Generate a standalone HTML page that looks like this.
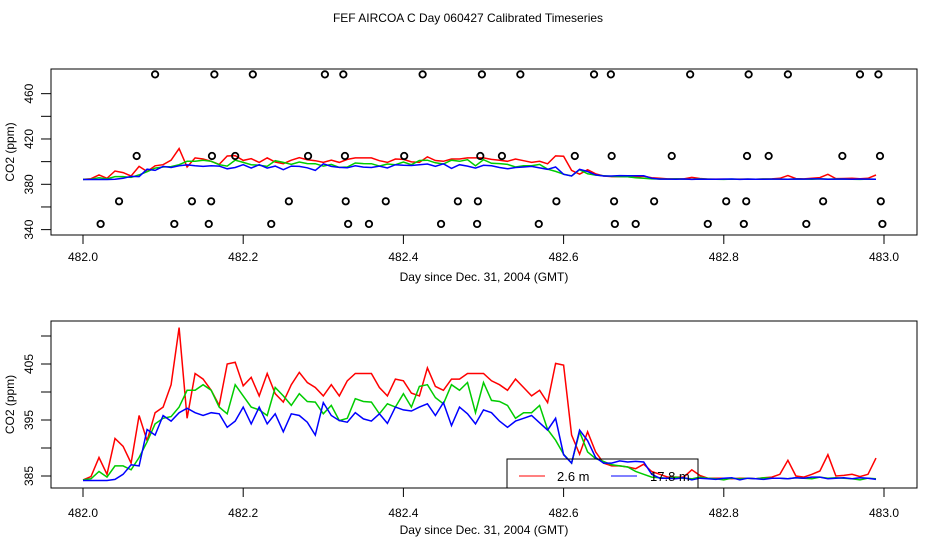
<!DOCTYPE html>
<html><head><meta charset="utf-8">
<style>
body{margin:0;background:#fff;}
svg{display:block;font-family:"Liberation Sans",sans-serif;}
</style></head>
<body>
<svg id="chart" width="936" height="540" viewBox="0 0 936 540" xmlns="http://www.w3.org/2000/svg">
<rect width="936" height="540" fill="#fff"/>
<text x="468" y="22" font-size="12" text-anchor="middle">FEF AIRCOA C  Day 060427  Calibrated Timeseries</text>
<g id="top"></g>
<g id="bot"></g>
</svg>
<script>
const xTicks = [482.0, 482.2, 482.4, 482.6, 482.8, 483.0];
const topYTicks = [340, 360, 380, 400, 420, 440, 460];
const topYLabels = [340, 380, 420, 460];
const botYTicks = [385, 390, 395, 400, 405, 410];
const botYLabels = [385, 395, 405];
const t0 = 482.0, dt = 0.01;
const red = [384.3,384.9,388.3,385.3,391.7,390.3,387.3,395.8,391.3,396.3,397.3,401.3,411.5,395.3,403.3,402.3,400.3,397.6,405,405.3,401.1,402.6,399.3,403.3,399.7,398.2,401.3,403.5,401.7,400.8,399.3,401.3,399.3,402,403.3,403.3,403.3,400.8,399.3,402.3,402,399.8,399.3,404.3,401,400.3,402.3,402.3,403.3,403.3,403.3,402,401.3,400.3,402.3,400.8,399.3,400.3,398.1,405.1,404.8,392.3,388.9,392.9,389.3,387.3,386.8,386.8,386.6,386.3,387.1,385.8,385.3,384.8,384.8,384.8,386.1,385.1,384.6,384.6,384.6,384.5,384.6,384.6,384.5,384.7,384.8,385.3,387.8,385,384.8,385.3,385.9,388.8,385,385.1,385.3,384.9,385.3,388.2];
const green = [384.3,384.5,385.8,384.8,386.8,386.8,386.1,388.3,391.1,394.3,395.3,395.6,397.3,400.3,400.3,401.3,400.3,397.3,396.1,401.3,399.3,397.3,396.8,395.8,400.8,399.3,397.6,399.7,398.3,398.2,396.1,397.6,394.9,395.3,398.8,398.3,398.2,396.1,397.9,397.3,399.7,397.3,401,401.3,399,397.9,401.3,400.3,401.7,396.3,401.7,398.5,398.3,397.6,395.3,396.3,396.3,397.6,393.3,391.4,388.9,387.3,392.9,389.3,388.1,387.6,387,386.8,386.6,385.8,385.3,384.8,384.7,384.6,384.8,384.6,384.5,384.8,384.6,384.5,384.3,384.6,384.5,384.6,384.5,384.7,384.6,384.6,384.5,384.7,384.6,384.5,384.8,384.6,384.7,384.6,384.5,384.3,384.6,384.5];
const blue = [384.2,384.2,384.2,384.2,384.4,385.3,387,386.8,393.3,392.3,395.8,394.8,396.3,397.1,396.3,395.8,396.3,396.1,393.7,394.8,397.3,394.3,397.3,394.3,396.1,392.9,396.1,395.8,394.6,392.3,398.1,395.8,394.9,394.6,396.3,395.2,394.8,396.1,394.4,397.3,396.8,396.6,397.3,397.9,395.8,398.1,394,397.3,396.1,394.3,396.8,396.3,394.8,393.7,394.8,395.3,395.8,394.5,393.2,395.3,388.8,387.3,393.2,391.3,388.3,387.3,387.3,387.7,387.5,387.6,387.5,385.3,384.6,384.6,384.5,384.7,384.3,384.6,384.5,384.4,384.6,384.7,384.3,384.6,384.5,384.4,384.6,384.6,384.5,384.7,384.6,384.8,384.8,384.5,384.6,384.7,384.5,384.7,384.6,384.4];
const circleLevels = [477, 405, 365, 345];
const circleDays1 = [482.090,482.164,482.212,482.302,482.325,482.424,482.498,482.546,482.638,482.659,482.758,482.831,482.880,482.970,482.993];
const circleDays2 = [482.067,482.161,482.190,482.281,482.327,482.401,482.496,482.523,482.614,482.660,482.735,482.829,482.856,482.948,482.995];
const circleDays3 = [482.045,482.136,482.160,482.257,482.328,482.378,482.468,482.493,482.591,482.663,482.713,482.803,482.828,482.924,482.996];
const circleDays4 = [482.022,482.114,482.157,482.235,482.331,482.357,482.447,482.492,482.569,482.664,482.690,482.780,482.825,482.903,482.998];
const circleDays = [circleDays1, circleDays2, circleDays3, circleDays4];

const NS = "http://www.w3.org/2000/svg";
function mk(tag, attrs, parent){const e=document.createElementNS(NS,tag);for(const k in attrs)e.setAttribute(k,attrs[k]);parent.appendChild(e);return e;}
const X = d => 83 + (d - 482.0) * 801;
const boxL = 51, boxR = 917;

function panel(g, top, bottom, yScale, yTicks, yLabels, labelY, titleY) {
  const box = mk('rect',{x:boxL,y:top,width:boxR-boxL,height:bottom-top,fill:'none',stroke:'#000','stroke-width':1},g);
  
  
  xTicks.forEach(t=>{
    const l = mk('line',{x1:X(t),x2:X(t),y1:bottom,y2:bottom+9,stroke:'#000'},g);
    
    
    const tx = mk('text',{x:X(t),y:labelY,'font-size':12,'text-anchor':'middle'},g);
    tx.textContent = t.toFixed(1);
    
    
  });
  yTicks.forEach(v=>{
    const l = mk('line',{x1:41,x2:boxL,y1:yScale(v),y2:yScale(v),stroke:'#000'},g);
    
    
  });
  yLabels.forEach(v=>{
    const tx = mk('text',{x:0,y:0,'font-size':12,'text-anchor':'middle',transform:`translate(33,${yScale(v)}) rotate(-90)`},g);
    tx.textContent = v;
    
    
  });
  const xt = mk('text',{x:484,y:titleY,'font-size':12,'text-anchor':'middle'},g);
  xt.textContent = 'Day since Dec. 31, 2004 (GMT)';
  
  
  const yt = mk('text',{x:0,y:0,'font-size':12,'text-anchor':'middle',transform:`translate(14,${(top+bottom)/2}) rotate(-90)`},g);
  yt.textContent = 'CO2 (ppm)';
  
  
  [[red,'#ff0000','red-series'],[green,'#00cc00','green-series'],[blue,'#0000ff','blue-series']].forEach(([arr,c,n])=>{
    const pts = arr.map((v,i)=>X(t0+i*dt).toFixed(1)+','+yScale(v).toFixed(1)).join(' ');
    const p = mk('polyline',{points:pts,fill:'none',stroke:c,'stroke-width':1.5},g);
    
    
  });
}

const topY = v => 184.3 - (v - 380) * 1.133;
const botY = v => 476 - (v - 385) * 5.6;
const gt = document.getElementById('top');
const gb = document.getElementById('bot');
panel(gt, 69, 235, topY, topYTicks, topYLabels, 261, 281);
panel(gb, 321, 488, botY, botYTicks, botYLabels, 517, 534);

circleLevels.forEach((lvl,r)=>{
  circleDays[r].forEach(d=>{
    const c = mk('circle',{cx:X(d),cy:topY(lvl),r:3.2,fill:'none',stroke:'#000','stroke-width':1.8},gt);
    
    
  });
});

const lg = mk('g',{},gb);


mk('rect',{x:507,y:459,width:191,height:29,fill:'none',stroke:'#000'},lg);
const l1 = mk('line',{x1:519,x2:545,y1:476,y2:476,stroke:'#ff0000','stroke-width':1},lg);


const t1 = mk('text',{x:557,y:481,'font-size':13},lg);
t1.textContent='2.6 m';


const l2 = mk('line',{x1:611,x2:637,y1:476,y2:476,stroke:'#0000ff','stroke-width':1},lg);


const t2 = mk('text',{x:650,y:481,'font-size':13},lg);
t2.textContent='17.8 m';


</script>
</body></html>
